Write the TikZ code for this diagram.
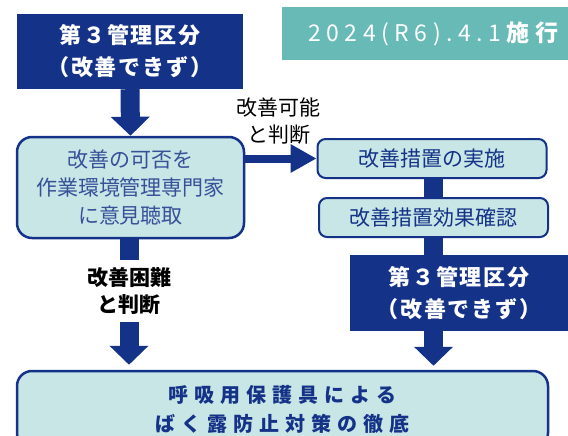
\documentclass[tikz,border=0pt]{standalone}
\usepackage{fontspec}
\setmainfont{Noto Sans CJK JP}
\newfontfamily\datefont[LetterSpace=24]{Noto Sans CJK JP}
\newfontfamily\widefont[LetterSpace=30]{Noto Sans CJK JP}
\newfontfamily\kubunfont[LetterSpace=9]{Noto Sans CJK JP}
\usepackage{tikz}
\usetikzlibrary{
  arrows.meta,
  positioning,
  calc,
}
\definecolor{kanriblue}{HTML}{143287}
\definecolor{sekoteal}{HTML}{68BAB6}
\definecolor{softfill}{HTML}{C8E6E5}

\begin{document}
\begin{tikzpicture}[
  x=1pt, y=-1pt,
  darkbox/.style={rectangle, fill=kanriblue, text=white, inner sep=0pt, align=center, font=\kubunfont\bfseries\fontsize{22}{32}\selectfont},
  softbox/.style={rectangle, draw=kanriblue, fill=softfill, inner sep=0pt, align=center, text=kanriblue},
  stepbox/.style={softbox, line width=2pt, rounded corners=8pt, minimum width=229pt, minimum height=39pt, font=\fontsize{21}{28}\selectfont},
  judge/.style={align=center, inner sep=0pt, text=black},
  blk/.style={line width=19pt, draw=kanriblue, -{Triangle[width=38pt,length=19pt]}},
  shaft/.style={line width=19pt, draw=kanriblue},
  harr/.style={line width=8pt, draw=kanriblue, -{Triangle[width=27pt,length=26pt]}},
]
  \clip (0,0) rectangle (568,436);

  % Top boxes
  \node[darkbox, minimum width=226pt, minimum height=75pt] (kubun1) at (130,51.5) {第３管理区分\\（改善できず）};
  \node[rectangle, fill=sekoteal, text=white, minimum width=286pt, minimum height=53pt, inner sep=0pt,
        font=\datefont\fontsize{23}{28}\selectfont] (seko) at (425,33.5) {\hspace*{22pt}2024(R6).4.1\textbf{施行}};

  % Left column
  \node[softbox, line width=2.5pt, rounded corners=15pt, minimum width=227pt, minimum height=101pt,
        text=kanriblue!85!white, font=\fontsize{21}{28}\selectfont] (iken) at (130.5,187.5) {改善の可否を\\作業環境管理専門家\\に意見聴取};
  \node[judge, minimum height=62pt, font=\bfseries\fontsize{21}{27.5}\selectfont] (konnan) at (129,291) {改善困難\\と判断};

  % Right column
  \node[stepbox] (jisshi) at (432,158.5) {改善措置の実施};
  \node[stepbox] (kakunin) at (433.5,217.5) {改善措置効果確認};
  \node[darkbox, minimum width=218pt, minimum height=76pt] (kubun2) at (459,293) {第３管理区分\\（改善できず）};
  \node[judge, font=\fontsize{21}{26.5}\selectfont] (kano) at (278.5,121) {改善可能\\と判断};

  % Bottom box
  \node[softbox, line width=2.5pt, rounded corners=15pt, minimum width=531pt, minimum height=77pt,
        font=\widefont\bfseries\fontsize{20}{29}\selectfont] (hogo) at (282.5,409.5) {呼吸用保護具による\\ばく露防止対策の徹底};

  % Arrows
  \draw[blk] (kubun1.south) -- (iken.north);
  \draw[harr] (iken.east |- jisshi.west) -- (jisshi.west);
  \draw[shaft] (jisshi.south -| kakunin) -- (kakunin.north);
  \draw[shaft] (kakunin.south) -- (kakunin.south |- kubun2.north);
  \draw[blk, shorten >=4pt] (kakunin.south |- kubun2.south) -- (kakunin.south |- hogo.north);
  \draw[shaft] (iken.south -| konnan) -- (konnan.north);
  \draw[blk, shorten >=5pt] (konnan.south) -- (konnan.south |- hogo.north);

\end{tikzpicture}
\end{document}
